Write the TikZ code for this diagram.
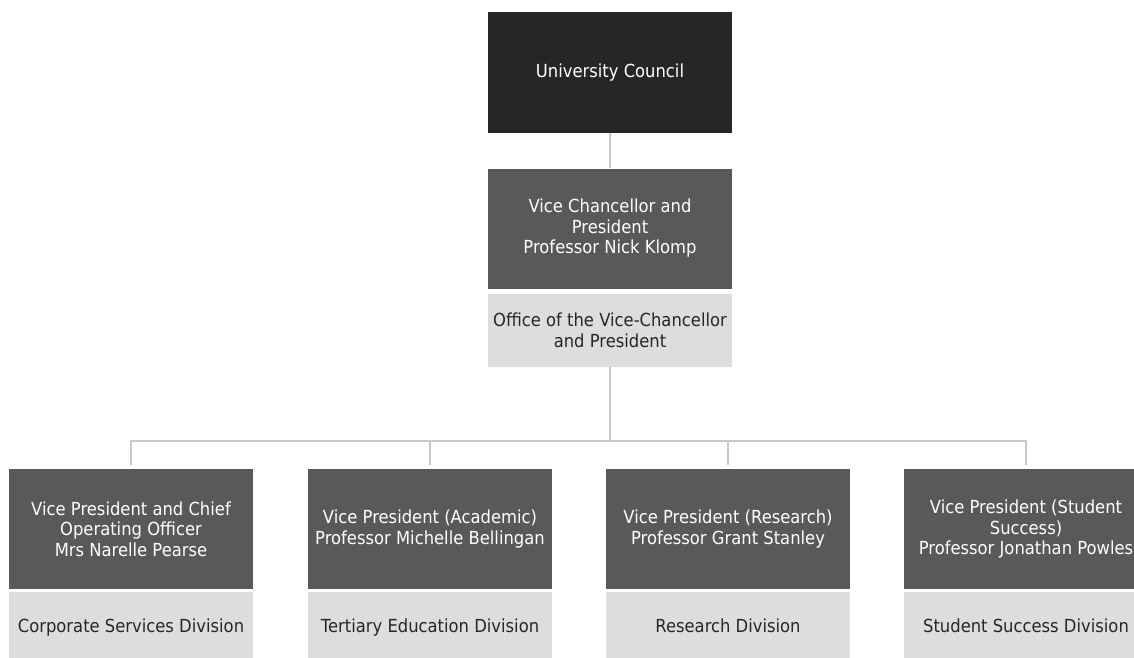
\documentclass[tikz,border=0pt]{standalone}
\usepackage{fontspec}
\setmainfont{DejaVu Sans}[FakeStretch=0.91]
\definecolor{topbox}{HTML}{262626}
\definecolor{darkbox}{HTML}{595959}
\definecolor{lightbox}{HTML}{DDDDDD}
\definecolor{connector}{HTML}{C8C8C8}
\definecolor{darktext}{HTML}{262626}
\tikzset{
  base/.style={rectangle, inner sep=0pt, minimum width=244pt, align=center,
    font=\fontsize{18pt}{20.5pt}\selectfont},
  topnode/.style={base, fill=topbox, text=white, minimum height=121pt},
  headnode/.style={base, fill=darkbox, text=white, minimum height=120pt},
  unitnode/.style={base, fill=lightbox, text=darktext, minimum height=73pt},
  conn/.style={draw=connector, line width=2.5pt}
}
\begin{document}
\begin{tikzpicture}[x=1pt, y=-1pt]
\useasboundingbox (0,0) rectangle (1134,657);
\clip (0,0) rectangle (1134,657);
\node[topnode] (uc) at (610,72.5) {University Council};
\node[headnode] (vc) at (610,228.5) {Vice Chancellor and\\President\\Professor Nick Klomp};
\node[unitnode] (ovc) at (610,330.5) {Office of the Vice-Chancellor\\and President};

\node[headnode] (vp1) at (131,529) {Vice President and Chief\\Operating Officer\\Mrs Narelle Pearse};
\node[unitnode] (d1) at (131,628.5) {\strut Corporate Services Division};
\node[headnode] (vp2) at (430,529) {Vice President (Academic)\\Professor Michelle Bellingan};
\node[unitnode] (d2) at (430,628.5) {\strut Tertiary Education Division};
\node[headnode] (vp3) at (728,529) {Vice President (Research)\\Professor Grant Stanley};
\node[unitnode] (d3) at (728,628.5) {\strut Research Division};
\node[headnode] (vp4) at (1026,529) {Vice President (Student\\Success)\\Professor Jonathan Powles};
\node[unitnode] (d4) at (1026,628.5) {\strut Student Success Division};

\coordinate (bus) at (610,441);
\draw[conn] (uc.south) -- (vc.north);
\draw[conn] (ovc.south) -- (bus);
\foreach \n in {vp1,vp2,vp3,vp4}{
  \draw[conn] ([yshift=4pt]\n.north) |- (bus);
}
\end{tikzpicture}
\end{document}
